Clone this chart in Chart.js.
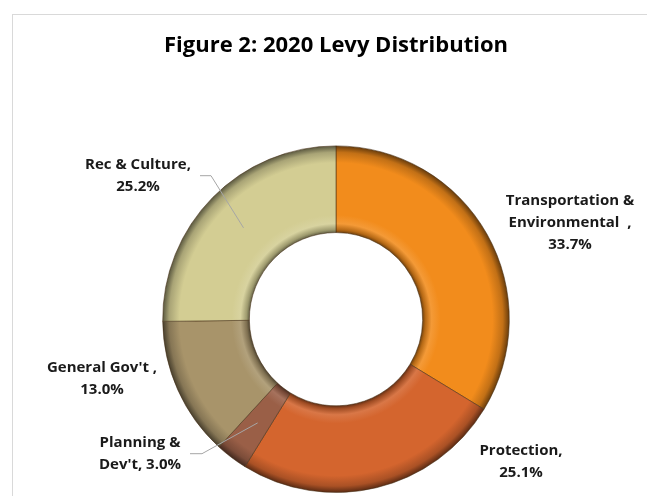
<!DOCTYPE html>
<html>
<head>
<meta charset="utf-8">
<script src="https://cdn.jsdelivr.net/npm/chart.js@4/dist/chart.umd.min.js"></script>
<style>
  html, body { margin: 0; padding: 0; background: #fff; overflow: hidden; }
  #frame { position: absolute; left: 12px; top: 14px; width: 700px; height: 600px; border: 1px solid #d9d9d9; }
  #wrap { position: absolute; left: 0; top: 0; width: 647px; height: 496px; }
</style>
</head>
<body>
<div id="frame"></div>
<div id="wrap"><canvas id="chart"></canvas></div>
<script>
// values (percent of 2020 levy)
var categories = ["Transportation & Environmental", "Protection", "Planning & Dev't", "General Gov't", "Rec & Culture"];
var shares = [33.7, 25.1, 3.0, 13.0, 25.2];
// how Excel wrapped each data label, {v} is the value
var labelLines = [
  ["Transportation &", "Environmental  ,", "{v}"],
  ["Protection,", "{v}"],
  ["Planning &", "Dev't, {v}"],
  ["General Gov't ,", "{v}"],
  ["Rec & Culture,", "{v}"]
];
var baseColors = ["#f28c1c", "#d4652e", "#9a5f47", "#a8946a", "#d3cd93"];

// label block centres, relative to the doughnut centre
var labelOffsets = [[234, -96], [185, 143], [-196, 135], [-234, 60], [-198, -143]];
// leader lines: [x from, x knee, y] relative to centre, null = none
var leaders = [null, null, [-146, -134, 134], null, [-136, -125, -144]];

function shade(hex, amt) {
  var n = parseInt(hex.slice(1), 16);
  var r = n >> 16, g = (n >> 8) & 255, b = n & 255;
  function f(c) {
    c = amt < 0 ? c * (1 + amt) : c + (255 - c) * amt;
    return Math.round(Math.max(0, Math.min(255, c)));
  }
  return "rgb(" + f(r) + "," + f(g) + "," + f(b) + ")";
}

function ringFill(context) {
  var base = baseColors[context.dataIndex];
  var chart = context.chart;
  var area = chart.chartArea;
  if (!area) return base;
  var cx = (area.left + area.right) / 2, cy = (area.top + area.bottom) / 2;
  var outer = Math.min(area.right - area.left, area.bottom - area.top) / 2;
  var inner = outer * 0.5;
  var g = chart.ctx.createRadialGradient(cx, cy, inner, cx, cy, outer);
  g.addColorStop(0, shade(base, -0.5));
  g.addColorStop(0.03, shade(base, -0.25));
  g.addColorStop(0.1, shade(base, 0.12));
  g.addColorStop(0.2, base);
  g.addColorStop(0.8, base);
  g.addColorStop(0.92, shade(base, -0.2));
  g.addColorStop(1, shade(base, -0.6));
  return g;
}

var labelPlugin = {
  id: "levyLabels",
  afterDatasetsDraw: function (chart) {
    var ctx = chart.ctx;
    var arcs = chart.getDatasetMeta(0).data;
    ctx.save();
    ctx.font = "bold 15px 'Open Sans', sans-serif";
    ctx.fillStyle = "#1a1a1a";
    ctx.textAlign = "center";
    ctx.textBaseline = "middle";
    arcs.forEach(function (arc, i) {
      var cx = arc.x, cy = arc.y;
      var lines = labelLines[i].map(function (s) { return s.replace("{v}", shares[i].toFixed(1) + "%"); });
      var lh = 22;
      var top = cy + labelOffsets[i][1] - (lines.length - 1) * lh / 2;
      lines.forEach(function (s, k) {
        ctx.fillText(s, cx + labelOffsets[i][0], top + k * lh);
      });
      var ld = leaders[i];
      if (ld) {
        var mid = (arc.startAngle + arc.endAngle) / 2;
        var rr = (arc.innerRadius + arc.outerRadius) / 2;
        ctx.strokeStyle = "#a6a6a6";
        ctx.lineWidth = 1;
        ctx.beginPath();
        ctx.moveTo(cx + ld[0], cy + ld[2] + 0.5);
        ctx.lineTo(cx + ld[1], cy + ld[2] + 0.5);
        ctx.lineTo(cx + Math.cos(mid) * rr, cy + Math.sin(mid) * rr);
        ctx.stroke();
      }
    });
    ctx.restore();
  }
};

new Chart(document.getElementById("chart"), {
  type: "doughnut",
  data: {
    labels: categories,
    datasets: [{
      data: shares,
      backgroundColor: ringFill,
      borderColor: "rgba(70,45,20,0.55)",
      borderWidth: 1
    }]
  },
  options: {
    responsive: true,
    maintainAspectRatio: false,
    animation: false,
    events: [],
    cutout: "50%",
    layout: { padding: { left: 162, right: 137, top: 0, bottom: 3 } },
    plugins: {
      legend: { display: false },
      tooltip: { enabled: false },
      title: {
        display: true,
        text: "Figure 2: 2020 Levy Distribution",
        color: "#000",
        font: { family: "'Open Sans', sans-serif", size: 22, weight: "bold" },
        padding: { top: 33, bottom: 86 }
      }
    }
  },
  plugins: [labelPlugin]
});
</script>
</body>
</html>
